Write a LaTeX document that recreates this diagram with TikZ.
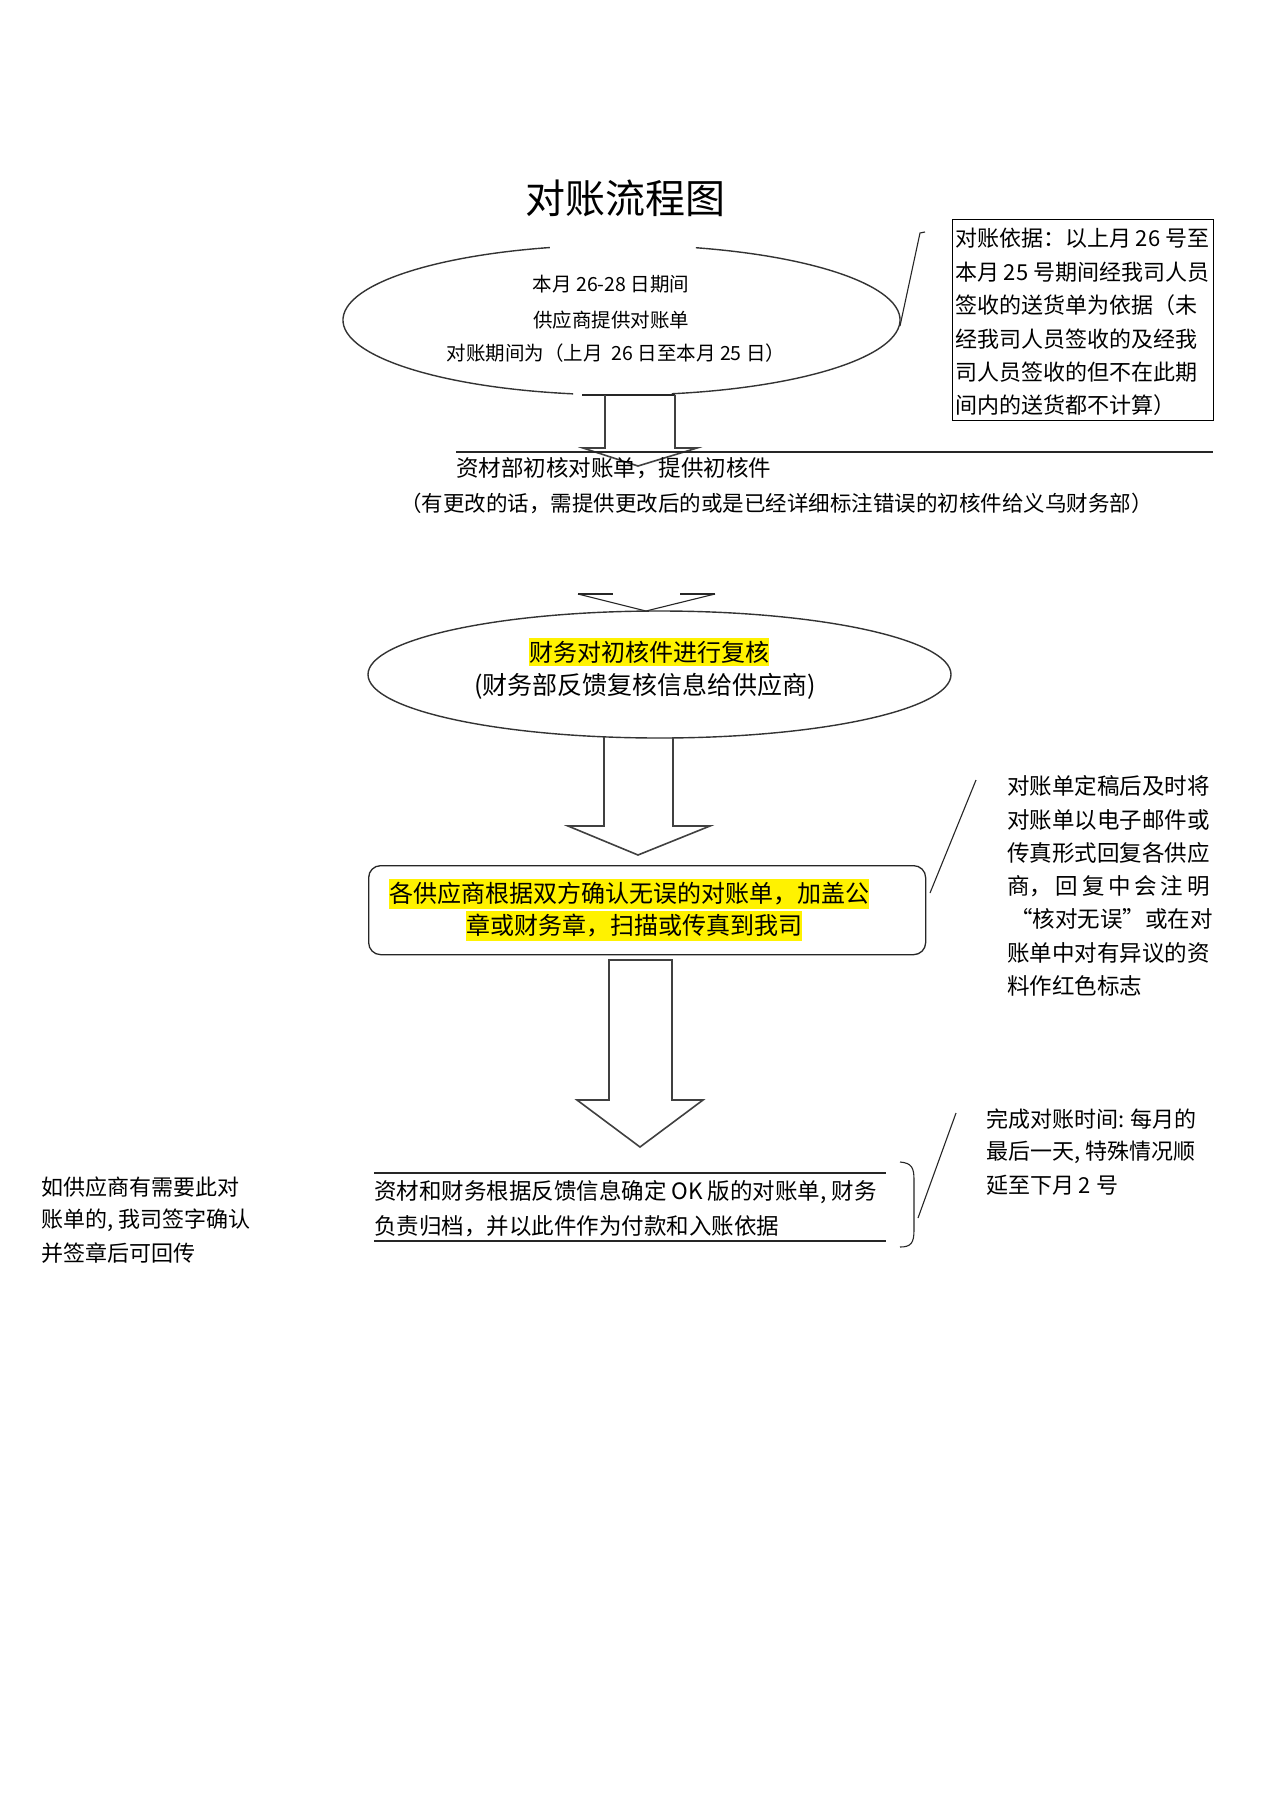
\documentclass[tikz,border=0pt]{standalone}
\usepackage{fontspec}
\setmainfont{Noto Sans CJK SC}
\usetikzlibrary{shapes.geometric}
\newcommand\myfs[1]{\fontsize{#1}{#1}\selectfont}
\begin{document}
\begin{tikzpicture}[x=1pt,y=-1pt,
  ln/.style={line width=1.1pt, black!85},
  eln/.style={line width=1.4pt, black!80},
  blk/.style={line width=1.6pt, draw=black!75, line join=miter},
  t/.style={inner sep=0pt, outer sep=0pt, anchor=west},
  tc/.style={inner sep=0pt, outer sep=0pt, anchor=center},
  hl/.style={fill=yellow}]
\useasboundingbox (0,0) rectangle (1274,1804);
\fill[white] (0,0) rectangle (1274,1804);

% title
\node[tc] (title) at (625,198) {\myfs{40}对账流程图};

% ellipse 1 (with gaps)
\node[ellipse, minimum width=557, minimum height=150, inner sep=0pt] (e1) at (621.5,320) {};
\draw[eln] (621.5,320) ++(100:278.5 and 75) arc[start angle=100, end angle=255.1, x radius=278.5, y radius=75];
\draw[eln] (621.5,320) ++(285.5:278.5 and 75) arc[start angle=285.5, end angle=439.6, x radius=278.5, y radius=75];
\node[tc] (e1t1) at (611,284) {\myfs{19.5}本月 26-28 日期间};
\node[tc] (e1t2) at (611,320) {\myfs{19.5}供应商提供对账单};
\node[tc] (e1t3) at (616,353) {\myfs{19.5}对账期间为（上月\ \ 26 日至本月 25 日）};

% box 1
\node[draw, line width=1pt, minimum width=261, minimum height=201, anchor=north west, inner sep=0pt] (b1) at (952,219) {};
\node[t] (b1l1) at (955,238) {\myfs{22}对账依据：以上月 26 号至};
\node[t] (b1l2) at (955,272) {\myfs{22}本月 25 号期间经我司人员};
\node[t] (b1l3) at (955,305) {\myfs{22}签收的送货单为依据（未};
\node[t] (b1l4) at (955,339) {\myfs{22}经我司人员签收的及经我};
\node[t] (b1l5) at (955,372) {\myfs{22}司人员签收的但不在此期};
\node[t] (b1l6) at (955,405) {\myfs{22}间内的送货都不计算）};

% connector ellipse 1 -> box 1
\coordinate (c1s) at (900,326);
\coordinate (c1t) at (920,233);
\coordinate (c1e) at (925,232);
\draw[ln] (c1s) -- (c1t) -- (c1e);

% arrow 1
\draw[ln] (582,395) -- (675,395);
\draw[blk] (605,395) -- (605,448) -- (583,448) -- (638,466) -- (697,448) -- (675,448) -- (675,395);
\draw[ln] (456,452) -- (1213,452);
\node[t] (m1) at (456,468) {\myfs{22.5}资材部初核对账单，提供初核件};
\node[t] (m2) at (400,503) {\myfs{21.5}（有更改的话，需提供更改后的或是已经详细标注错误的初核件给义乌财务部）};

% arrow 2 head
\draw[ln] (578,594) -- (613,594);
\draw[ln] (680,594) -- (715,594);
\draw[ln] (578,594) -- (646,611) -- (715,594);

% ellipse 2
\node[ellipse, draw, eln, minimum width=583, minimum height=127, inner sep=0pt] (e2) at (659.5,674.5) {};
\node[t, hl, minimum height=28] (e2t1) at (529,652) {\myfs{24}财务对初核件进行复核\hspace{18pt}};
\node[tc] (e2t2) at (645,686) {\myfs{25}(财务部反馈复核信息给供应商)};

% arrow 3
\draw[blk] (604,737) -- (604,826) -- (568,826) -- (638,855) -- (710,826) -- (673,826) -- (673,737);

% rounded box
\node[draw, line width=1.3pt, black!85, rounded corners=12pt, minimum width=557, minimum height=89, anchor=north west, inner sep=0pt] (rb) at (368,865) {};
\node[t, hl, minimum height=30] (rbt1) at (389,894) {\myfs{24}各供应商根据双方确认无误的对账单，加盖公\hspace{33pt}};
\node[t, hl, minimum height=30] (rbt2) at (466,926) {\myfs{24}章或财务章，扫描或传真到我司\hspace{24pt}};

% connector rounded box -> note 2
\coordinate (c2a) at (930,893);
\coordinate (c2b) at (976,780);
\draw[ln] (c2a) -- (c2b);

% note 2
\node[t] (n2l1) at (1007,786) {\myfs{22.5}对账单定稿后及时将};
\node[t] (n2l2) at (1007,820) {\myfs{22.5}对账单以电子邮件或};
\node[t] (n2l3) at (1007,853) {\myfs{22.5}传真形式回复各供应};
\node[t] (n2l4) at (1007,886) {\myfs{22.5}\makebox[202.5pt][l]{商，\hfill 回\hfill 复\hfill 中\hfill 会\hfill 注\hfill 明}};
\node[t] (n2l5) at (1007,919) {\myfs{22.5}\makebox[202.5pt][l]{\hspace{3pt}“核对无误”\hfill 或在对}};
\node[t] (n2l6) at (1007,953) {\myfs{22.5}账单中对有异议的资};
\node[t] (n2l7) at (1007,986) {\myfs{22.5}料作红色标志};

% arrow 4
\draw[blk] (609,960) -- (609,1100) -- (577,1100) -- (640,1147) -- (703,1100) -- (672,1100) -- (672,960) -- cycle;

% final block
\draw[ln] (374,1173) -- (886,1173);
\draw[ln] (374,1241) -- (886,1241);
\node[t] (f1) at (374,1192) {\myfs{22.5}资材和财务根据反馈信息确定 OK 版的对账单, 财务};
\node[t] (f2) at (374,1226) {\myfs{22.5}负责归档，并以此件作为付款和入账依据};

% bracket
\coordinate (brt) at (900,1162);
\coordinate (brb) at (900,1247);
\coordinate (brm) at (918,1218);
\draw[ln] (brt) .. controls (912,1163) and (914,1168) .. (914,1180) -- (914,1230) .. controls (914,1243) and (911,1247) .. (brb);

% connector bracket -> note 3
\coordinate (c3e) at (956,1113);
\draw[ln] (brm) -- (c3e);

% note 3
\node[t] (n3l1) at (986,1119) {\myfs{22}完成对账时间: 每月的};
\node[t] (n3l2) at (986,1152) {\myfs{22}最后一天, 特殊情况顺};
\node[t] (n3l3) at (986,1185) {\myfs{22}延至下月 2 号};

% left note
\node[t] (n4l1) at (41,1187) {\myfs{22}如供应商有需要此对};
\node[t] (n4l2) at (41,1220) {\myfs{22}账单的, 我司签字确认};
\node[t] (n4l3) at (41,1253) {\myfs{22}并签章后可回传};
\end{tikzpicture}
\end{document}
